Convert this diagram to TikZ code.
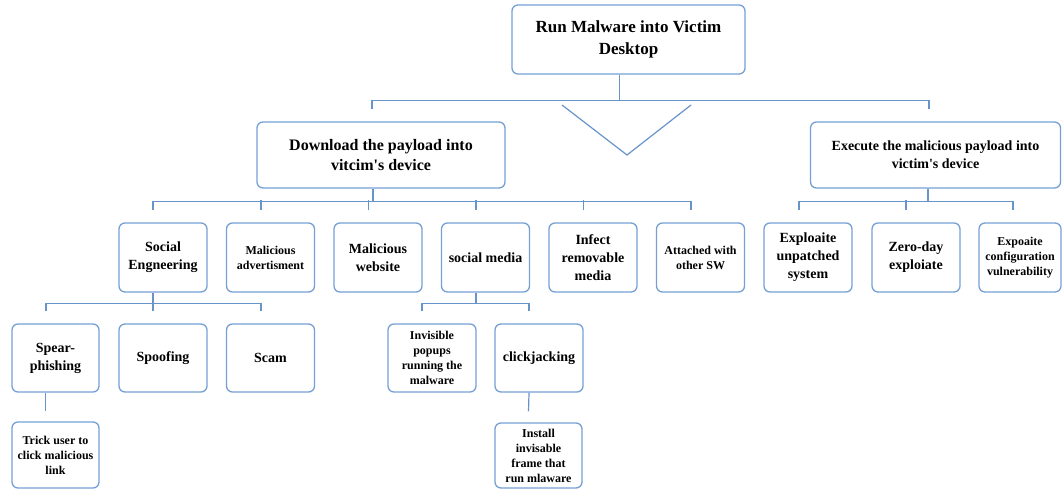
\documentclass[tikz,border=0pt]{standalone}
\usepackage{fontspec}
\setmainfont{Liberation Serif}
\usetikzlibrary{calc}
\definecolor{boxcol}{RGB}{118,160,212}
\definecolor{linecol}{RGB}{104,148,204}
\begin{document}
\begin{tikzpicture}[x=1pt,y=-1pt,
  box/.style={draw=boxcol, line width=1.3pt, rounded corners=6pt, align=center,
    inner sep=1pt, font=\bfseries},
  lvtwo/.style={box, minimum width=88pt, minimum height=69pt},
  lvthree/.style={box, minimum width=88pt, minimum height=68pt},
  conn/.style={draw=linecol, line width=1.2pt},
  fA/.style={font=\bfseries\fontsize{17}{22}\selectfont},
  fB/.style={font=\bfseries\fontsize{16}{20}\selectfont},
  fC/.style={font=\bfseries\fontsize{14}{18}\selectfont},
  fD/.style={font=\bfseries\fontsize{12}{15}\selectfont}]
\useasboundingbox[fill=white] (0,0) rectangle (1062,490);

% level 0
\node[box, fA, minimum width=233pt, minimum height=69pt] (root) at (628.5,39.5) {Run Malware into Victim\\Desktop};
% level 1
\node[box, fB, minimum width=248pt, minimum height=66pt] (dl) at (381,155) {Download the payload into\\vitcim\textquotesingle s device};
\node[box, fC, minimum width=250pt, minimum height=66pt] (ex) at (935.5,155) {Execute the malicious payload into\\victim\textquotesingle s device};
% level 2
\node[lvtwo, fC] (se) at (163,257.5) {Social\\Engneering};
\node[lvtwo, fD] (ma) at (270.5,257.5) {Malicious\\advertisment};
\node[lvtwo, fC] (mw) at (378,257.5) {Malicious\\website};
\node[lvtwo, fC] (sm) at (485.5,257.5) {social media};
\node[lvtwo, fC] (ir) at (593,257.5) {Infect\\removable\\media};
\node[lvtwo, fD] (aw) at (700.5,257.5) {Attached with\\other SW};
\node[lvtwo, fC] (eu) at (808,257.5) {Exploaite\\unpatched\\system};
\node[lvtwo, fC] (zd) at (916,257.5) {Zero-day\\exploiate};
\node[box, fD, minimum width=82pt, minimum height=69pt] (ec) at (1020,257.5) {Expoaite\\configuration\\vulnerability};
% level 3
\node[lvthree, fC, minimum width=87pt] (sp) at (55.5,358) {Spear-\\phishing};
\node[lvthree, fC] (spf) at (163,358) {Spoofing};
\node[lvthree, fC] (sc) at (270.5,358) {Scam};
\node[lvthree, fD] (ip) at (432,358) {Invisible\\popups\\running the\\malware};
\node[lvthree, fC] (cj) at (539,358) {clickjacking};
% level 4
\node[box, fD, minimum width=87pt, minimum height=66pt] (tu) at (55.5,455) {Trick user to\\click malicious\\link};
\node[box, fD, minimum width=87pt, minimum height=65pt] (inst) at (538.5,455.5) {Install\\invisable\\frame that\\run mlaware};

% root connectors
\draw[conn] ($(root.south)+(-9,0)$) -- ($(root.south)+(-9,26)$);
\draw[conn] ($(dl.north)+(-9,-12)$) |- ($(root.south)+(-9,26)$) -| ($(ex.north)+(-6.5,-12)$);
\coordinate (vl) at (562,105);
\coordinate (vb) at (627,155);
\coordinate (vr) at (691,105);
\draw[conn] (vl) -- (vb) -- (vr);

% download connectors
\draw[conn] ($(dl.south)+(-8,0)$) -- ($(dl.south)+(-8,13)$);
\draw[conn] ($(se.north)+(-10,-12)$) |- ($(dl.south)+(-8,13)$) -| ($(aw.north)+(-9.5,-12)$);
\foreach \n in {ma,mw,sm,ir}
  \draw[conn] ($(\n.north)+(-9.5,-12)$) -- ($(\n.north)+(-9.5,-22)$);

% execute connectors
\draw[conn] ($(ex.south)+(-7.5,0)$) -- ($(ex.south)+(-7.5,13)$);
\draw[conn] ($(eu.north)+(-9,-12)$) |- ($(ex.south)+(-7.5,13)$) -| ($(ec.north)+(-7,-12)$);
\draw[conn] ($(zd.north)+(-10,-12)$) -- ($(zd.north)+(-10,-22)$);

% social engineering connectors
\draw[conn] ($(se.south)+(-10,0)$) -- ($(se.south)+(-10,11)$);
\draw[conn] ($(sp.north)+(-9.5,-12)$) |- ($(se.south)+(-10,11)$) -| ($(sc.north)+(-9.5,-12)$);
\draw[conn] ($(spf.north)+(-10,-12)$) -- ($(spf.north)+(-10,-21)$);

% social media connectors
\draw[conn] ($(sm.south)+(-9.5,0)$) -- ($(sm.south)+(-9.5,11)$);
\draw[conn] ($(ip.north)+(-10,-12)$) |- ($(sm.south)+(-9.5,11)$) -| ($(cj.north)+(-10,-12)$);

% level 4 connectors
\draw[conn] ($(sp.south)+(-10,0)$) -- ($(tu.north)+(-10,-10)$);
\draw[conn] ($(cj.south)+(-10,0)$) -- ($(inst.north)+(-10,-11)$);
\end{tikzpicture}
\end{document}
